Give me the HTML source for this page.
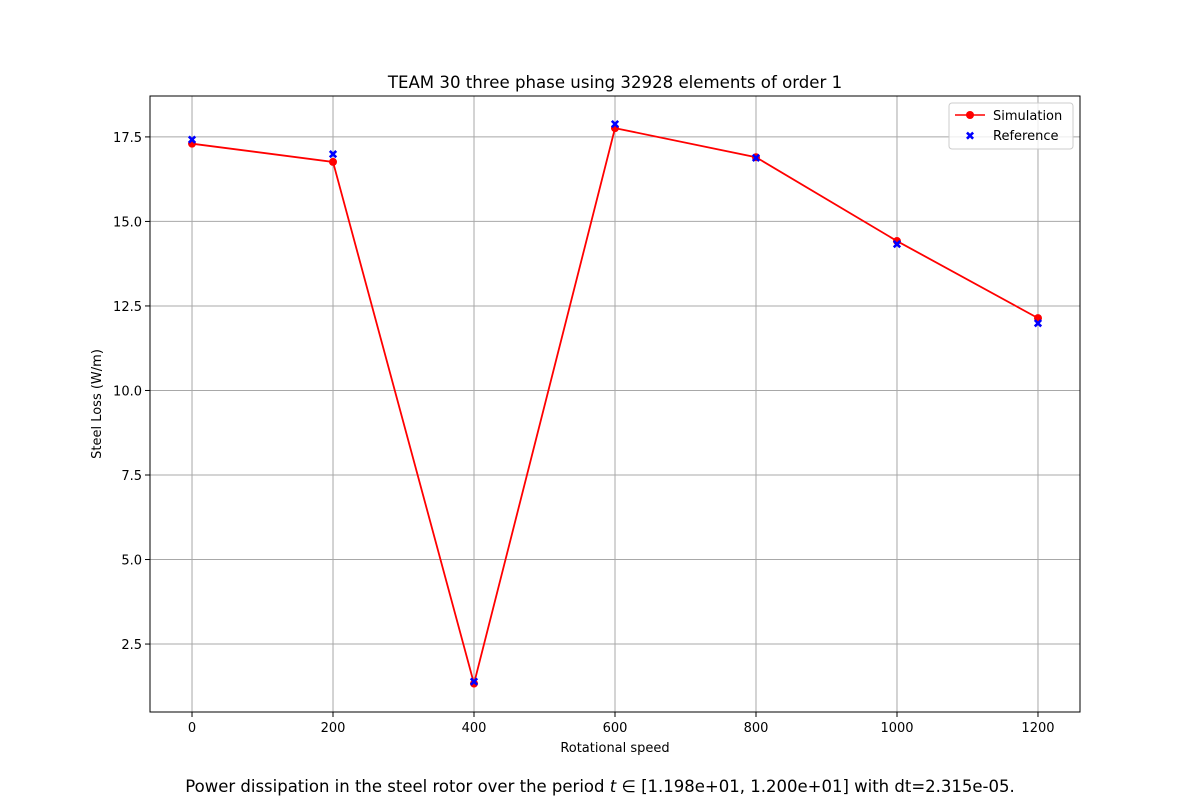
<!DOCTYPE html>
<html><head><meta charset="utf-8"><style>
body{margin:0;background:#fff;}
svg text{font-family:"DejaVu Sans","Liberation Sans",sans-serif;}
</style></head><body>
<svg id="chart" width="1200" height="800" xmlns="http://www.w3.org/2000/svg">
<rect width="1200" height="800" fill="#fff"/>
<g id="grid"></g>
<g id="series"></g>
<rect x="150" y="96" width="930" height="616" fill="none" stroke="#000" stroke-width="1"/>
<g id="ticks"></g>
<text x="615" y="88" font-size="16.6" text-anchor="middle">TEAM 30 three phase using 32928 elements of order 1</text>
<text x="615" y="752" font-size="13" text-anchor="middle">Rotational speed</text>
<text transform="translate(101,404) rotate(-90)" font-size="13" text-anchor="middle">Steel Loss (W/m)</text>
<text x="600" y="792" font-size="16.5" text-anchor="middle">Power dissipation in the steel rotor over the period <tspan font-style="italic">t</tspan> ∈ [1.198e+01, 1.200e+01] with dt=2.315e-05.</text>
<g>
<rect x="949" y="103" width="124" height="46" rx="3" fill="#fff" fill-opacity="0.8" stroke="#ccc"/>
<line x1="955" y1="115" x2="985" y2="115" stroke="red" stroke-width="1.5"/>
<circle cx="970" cy="115" r="4" fill="red"/>
<text x="993" y="120" font-size="13">Simulation</text>
<text x="970" y="140" font-size="12" fill="blue" text-anchor="middle" font-weight="bold">✖</text>
<text x="993" y="140" font-size="13">Reference</text>
</g>
</svg>
<script>
const speeds=[0,200,400,600,800,1000,1200];
const simulation=[17.3,16.76,1.33,17.76,16.9,14.42,12.14];
const reference=[17.42,16.99,1.39,17.88,16.88,14.33,11.99];
const xTicks=[0,200,400,600,800,1000,1200];
const yTicks=[2.5,5.0,7.5,10.0,12.5,15.0,17.5];
const NS="http://www.w3.org/2000/svg";
const X0=150,X1=1080,Y0=96,Y1=712,xmin=-59.6,xmax=1259.6,ymin=0.49,ymax=18.71;
const sx=v=>X0+(v-xmin)/(xmax-xmin)*(X1-X0);
const sy=v=>Y1-(v-ymin)/(ymax-ymin)*(Y1-Y0);
function mk(t,a,p){const e=document.createElementNS(NS,t);for(const k in a)e.setAttribute(k,a[k]);p.appendChild(e);return e;}
const grid=document.getElementById('grid'),ticks=document.getElementById('ticks'),ser=document.getElementById('series');
xTicks.forEach(v=>{const x=sx(v);
const g=mk('line',{x1:x,x2:x,y1:Y0,y2:Y1,stroke:'#a8a8a8','stroke-width':1},grid);

mk('line',{x1:x,x2:x,y1:Y1,y2:Y1+5,stroke:'#000'},ticks);
const t=mk('text',{x:x,y:Y1+20,'font-size':13,'text-anchor':'middle'},ticks);t.textContent=v;
});
yTicks.forEach(v=>{const y=sy(v);
const g=mk('line',{x1:X0,x2:X1,y1:y,y2:y,stroke:'#a8a8a8','stroke-width':1},grid);

mk('line',{x1:X0-5,x2:X0,y1:y,y2:y,stroke:'#000'},ticks);
const t=mk('text',{x:X0-8,y:y+5,'font-size':13,'text-anchor':'end'},ticks);t.textContent=v.toFixed(1);
});
const pl=mk('polyline',{points:speeds.map((s,i)=>sx(s)+','+sy(simulation[i])).join(' '),fill:'none',stroke:'red','stroke-width':1.8},ser);

speeds.forEach((s,i)=>{const c=mk('circle',{cx:sx(s),cy:sy(simulation[i]),r:4,fill:'red'},ser);
});
speeds.forEach((s,i)=>{const x=sx(s),y=sy(reference[i]),d=3.2;
const p=mk('path',{d:`M${x-d},${y-d}L${x+d},${y+d}M${x+d},${y-d}L${x-d},${y+d}`,stroke:'blue','stroke-width':2.6},ser);
});
</script>
</body></html>
